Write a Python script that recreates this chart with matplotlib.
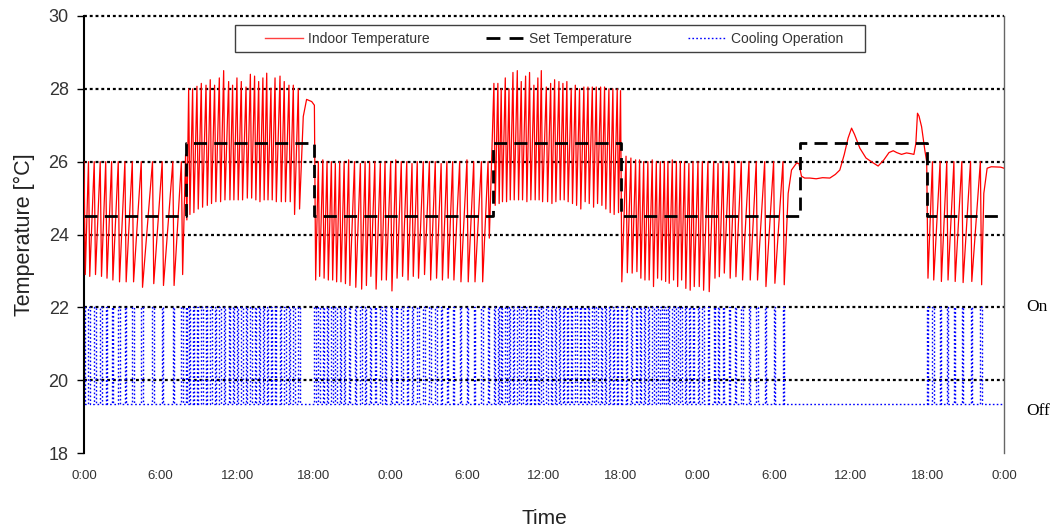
import matplotlib
matplotlib.use("Agg")
import matplotlib.pyplot as plt
from matplotlib.lines import Line2D
from matplotlib.patches import Rectangle

# ---------------- data ----------------
tick_hours = [0, 6, 12, 18, 24, 30, 36, 42, 48, 54, 60, 66, 72]
tick_labels = ["0:00", "6:00", "12:00", "18:00", "0:00", "6:00", "12:00",
               "18:00", "0:00", "6:00", "12:00", "18:00", "0:00"]
y_ticks = [18, 20, 22, 24, 26, 28, 30]

# set temperature (step, value holds from time until next time)
set_t = [0, 8, 18, 32, 42, 56, 66, 72]
set_T = [24.5, 26.5, 24.5, 26.5, 24.5, 26.5, 24.5, 24.5]

# cooling cycles: time of trough (end of cooling run), trough value, peak value before it
drop_h = 0.1          # duration of one cooling run [h]
cool_on = 22.0
cool_off = 19.35

seg1_trough_t = [0.1, 0.45, 0.9, 1.37, 1.8, 2.26, 2.78, 3.3, 3.88, 4.58, 5.46, 6.22, 7.05, 7.72, 8.05]
seg1_trough_T = [22.9, 22.85, 22.9, 22.85, 22.8, 22.75, 22.7, 22.7, 22.7, 22.55, 22.65, 22.6, 22.6, 22.9, 24.4]
seg1_peak_T = [26.0, 26.0, 26.0, 26.0, 26.0, 26.0, 26.0, 26.0, 26.0, 26.0, 26.0, 26.0, 26.0, 26.0, 26.2]

seg2_trough_t = [8.29, 8.60, 8.94, 9.28, 9.65, 9.98, 10.32, 10.69, 11.03, 11.42, 11.73, 12.07, 12.41,
                 12.78, 13.12, 13.45, 13.77, 14.10, 14.40, 14.73, 15.05, 15.44, 15.77, 16.14, 16.48, 16.87]
seg2_trough_T = [24.55, 24.6, 24.7, 24.75, 24.8, 24.85, 24.9, 24.9, 24.95, 24.95, 24.95, 24.95, 24.95,
                 25.0, 25.0, 24.95, 24.9, 24.95, 24.95, 24.95, 24.9, 24.9, 24.9, 24.9, 24.55, 24.7]
seg2_peak_T = [28.0, 28.0, 28.07, 28.15, 28.1, 28.25, 28.1, 28.3, 28.5, 28.2, 28.1, 28.3, 28.2,
               28.05, 28.4, 28.35, 28.2, 28.3, 28.43, 28.02, 28.3, 28.35, 28.2, 28.1, 28.1, 28.0]

hump_t = [17.16, 17.42, 17.82]
hump_T = [27.24, 27.71, 27.65]

seg3_trough_t = [18.13, 18.44, 18.79, 19.12, 19.46, 19.77, 20.11, 20.46, 20.81, 21.27, 21.73, 22.1,
                 22.45, 22.86, 23.29, 23.66, 24.1, 24.5, 24.93, 25.36, 25.77, 26.18, 26.65, 27.13,
                 27.59, 28.05, 28.5, 28.95, 29.5, 30.07, 30.6, 31.2, 31.72]
seg3_trough_T = [22.75, 22.85, 22.8, 22.75, 22.75, 22.7, 22.7, 22.65, 22.6, 22.55, 22.5, 22.6,
                 22.85, 22.5, 22.75, 22.75, 22.45, 22.8, 22.85, 22.75, 22.85, 22.8, 22.9, 22.75,
                 22.8, 22.75, 22.8, 22.75, 22.7, 22.7, 22.7, 22.7, 23.9]
seg3_peak_T = [27.55, 26.0, 26.05, 26.0, 26.0, 25.95, 26.0, 26.0, 26.05, 26.0, 25.95, 26.0,
               26.0, 26.0, 25.95, 26.0, 26.0, 26.05, 26.0, 26.0, 25.95, 26.0, 26.0, 26.0,
               26.0, 25.95, 26.0, 26.0, 26.0, 26.05, 26.0, 26.0, 26.0]

seg4_trough_t = [32.18, 32.49, 32.75, 33.07, 33.36, 33.67, 34.01, 34.32, 34.66, 34.97, 35.31,
                 35.62, 35.89, 36.28, 36.62, 36.93, 37.27, 37.58, 37.89, 38.23, 38.55, 38.88,
                 39.22, 39.54, 39.88, 40.19, 40.53, 40.84, 41.18, 41.49, 41.83]
seg4_trough_T = [24.8, 24.85, 24.9, 24.9, 24.95, 24.95, 24.95, 24.95, 24.9, 24.95, 24.95,
                 24.95, 24.9, 24.9, 24.85, 24.9, 24.95, 24.95, 24.9, 24.85, 24.8, 24.7,
                 24.9, 24.85, 24.75, 24.85, 24.8, 24.7, 24.6, 24.55, 24.6]
seg4_peak_T = [28.15, 28.15, 28.0, 28.3, 28.0, 28.45, 28.5, 28.2, 28.35, 28.45, 28.1,
               28.3, 28.5, 28.05, 28.15, 28.25, 28.2, 28.15, 28.2, 28.0, 28.1, 28.0,
               28.05, 28.05, 28.05, 28.05, 28.05, 28.05, 28.0, 28.0, 28.0]

seg5_trough_t = [42.09, 42.52, 42.9, 43.27, 43.58, 43.9, 44.23, 44.57, 44.89, 45.2, 45.52, 45.8,
                 46.14, 46.46, 46.77, 47.1, 47.44, 47.76, 48.15, 48.49, 48.93, 49.38, 49.72,
                 50.11, 50.57, 51.02, 51.54, 52.14, 52.71, 53.37, 54.07, 54.8]
seg5_trough_T = [22.7, 22.95, 22.94, 22.98, 22.8, 22.75, 22.75, 22.57, 22.8, 22.75, 22.71, 22.66,
                 22.75, 22.57, 22.75, 22.52, 22.47, 22.57, 22.57, 22.47, 22.43, 22.8, 22.84,
                 22.94, 22.8, 22.84, 22.75, 22.75, 22.75, 22.57, 22.66, 22.62]
seg5_peak_T = [27.95, 26.15, 26.1, 26.05, 26.05, 26.0, 26.0, 26.05, 26.0, 26.0, 26.0, 26.0,
               26.05, 26.0, 26.0, 26.0, 25.95, 26.0, 26.0, 26.0, 26.0, 26.0, 25.95,
               26.0, 26.0, 26.0, 26.0, 26.0, 26.0, 26.0, 26.0, 26.0]

seg6_t = [55.11, 55.37, 55.76, 55.95, 56.15, 56.4, 56.81, 57.3, 57.8, 58.37, 58.8, 59.15, 59.5,
          59.8, 60.07, 60.3, 60.72, 61.2, 61.7, 62.15, 62.6, 63.0, 63.33, 63.6, 63.98, 64.37,
          64.7, 64.95, 65.1, 65.23, 65.35, 65.55, 65.81]
seg6_T = [25.13, 25.77, 25.96, 25.95, 25.6, 25.55, 25.55, 25.53, 25.56, 25.55, 25.65, 25.77, 26.2,
          26.65, 26.92, 26.75, 26.37, 26.1, 25.98, 25.88, 26.05, 26.25, 26.3, 26.25, 26.2, 26.24,
          26.22, 26.2, 26.5, 27.33, 27.25, 26.96, 26.3]

seg7_trough_t = [66.05, 66.5, 67.1, 67.62, 68.18, 68.8, 69.48, 70.25]
seg7_trough_T = [22.8, 22.75, 22.71, 22.75, 22.71, 22.68, 22.71, 22.62]
seg7_peak_T = [26.0, 26.0, 26.0, 26.0, 26.0, 26.0, 26.0, 26.0]

end_t = [70.42, 70.68, 71.0, 71.73, 72.0]
end_T = [25.13, 25.82, 25.86, 25.85, 25.82]


# ---------------- build series ----------------
def cycles(tt, lo, hi):
    xs, ys = [], []
    for t, a, b in zip(tt, lo, hi):
        xs += [t - drop_h, t]
        ys += [b, a]
    return xs, ys


pieces = [
    cycles(seg1_trough_t, seg1_trough_T, seg1_peak_T),
    cycles(seg2_trough_t, seg2_trough_T, seg2_peak_T),
    (hump_t, hump_T),
    cycles(seg3_trough_t, seg3_trough_T, seg3_peak_T),
    cycles(seg4_trough_t, seg4_trough_T, seg4_peak_T),
    cycles(seg5_trough_t, seg5_trough_T, seg5_peak_T),
    (seg6_t, seg6_T),
    cycles(seg7_trough_t, seg7_trough_T, seg7_peak_T),
    (end_t, end_T),
]
in_t, in_T = [], []
for xs, ys in pieces:
    in_t += list(xs)
    in_T += list(ys)

all_troughs = (seg1_trough_t + seg2_trough_t + seg3_trough_t + seg4_trough_t
               + seg5_trough_t + seg7_trough_t)
cool_t, cool_v = [0.0], [cool_off]
for t in all_troughs:
    cool_t += [t - drop_h, t - drop_h, t, t]
    cool_v += [cool_off, cool_on, cool_on, cool_off]
cool_t.append(72.0)
cool_v.append(cool_off)

# ---------------- figure ----------------
W, H = 1051, 530
fig = plt.figure(figsize=(W / 100, H / 100), dpi=100)
ax = fig.add_axes([84 / W, 77 / H, 920 / W, 437 / H])

grid_style = (0, (1.3, 1.3))
for y in [20, 22, 24, 26, 28, 30]:
    ax.axhline(y, color="black", lw=1.6, ls=grid_style, zorder=1, clip_on=False)

ax.plot(cool_t, cool_v, color="#0000ff", lw=1.0, ls=(0, (1.2, 1.6)), zorder=2)
ax.plot(in_t, in_T, color="#ff0000", lw=0.9, zorder=3)
ax.step(set_t, set_T, where="post", color="black", lw=2.0, ls=(0, (4.7, 2.6)), zorder=4)

ax.set_xlim(0, 72)
ax.set_ylim(18, 30)
ax.set_xticks(tick_hours)
ax.set_xticklabels(tick_labels, fontsize=9.5, color="#333333", family="Liberation Sans")
ax.set_yticks(y_ticks)
ax.set_yticklabels([str(v) for v in y_ticks], fontsize=13, color="#333333",
                   family="Liberation Sans")
ax.tick_params(axis="y", direction="out", length=5, width=1, pad=6)
ax.tick_params(axis="x", direction="out", length=0, pad=12)

ax.spines["top"].set_visible(False)
ax.spines["bottom"].set_visible(False)
ax.spines["left"].set_linewidth(1.5)
ax.spines["right"].set_color("#666666")
ax.spines["right"].set_linewidth(1.0)

ax.set_xlabel("Time", fontsize=15, color="#222222", family="Liberation Sans", labelpad=20)
ax.set_ylabel("Temperature [°C]", fontsize=15.5, color="#222222", family="Liberation Sans",
              labelpad=10)

ax.text(1.024, 22.0, "On", transform=ax.get_yaxis_transform(), fontsize=12.5,
        family="Liberation Serif", va="center", ha="left")
ax.text(1.024, 19.15, "Off", transform=ax.get_yaxis_transform(), fontsize=12.5,
        family="Liberation Serif", va="center", ha="left")

# legend box drawn separately so its padding matches the original
ax.add_patch(Rectangle(((235 - 84) / 920, (453 - 52) / 437), 630 / 920, 27 / 437,
                       transform=ax.transAxes, facecolor="white", edgecolor="#404040",
                       lw=1.0, zorder=5, clip_on=False))
handles = [
    Line2D([], [], color="#ff4040", lw=1.0),
    Line2D([], [], color="black", lw=2.0, ls=(0, (5.0, 3.3))),
    Line2D([], [], color="#0000ff", lw=1.0, ls=(0, (1.2, 1.6))),
]
labels = ["Indoor Temperature", "Set Temperature", "Cooling Operation"]
leg = ax.legend(handles, labels, loc="center left",
                bbox_to_anchor=((265 - 84) / 920, (453 - 38.5) / 437),
                ncol=3, frameon=False, borderaxespad=0, borderpad=0,
                prop={"family": "Liberation Sans", "size": 10},
                handlelength=2.7, handletextpad=0.36, columnspacing=4.1)
leg.set_zorder(6)
for txt in leg.get_texts():
    txt.set_color("#333333")

fig.savefig("out.png", dpi=100)
